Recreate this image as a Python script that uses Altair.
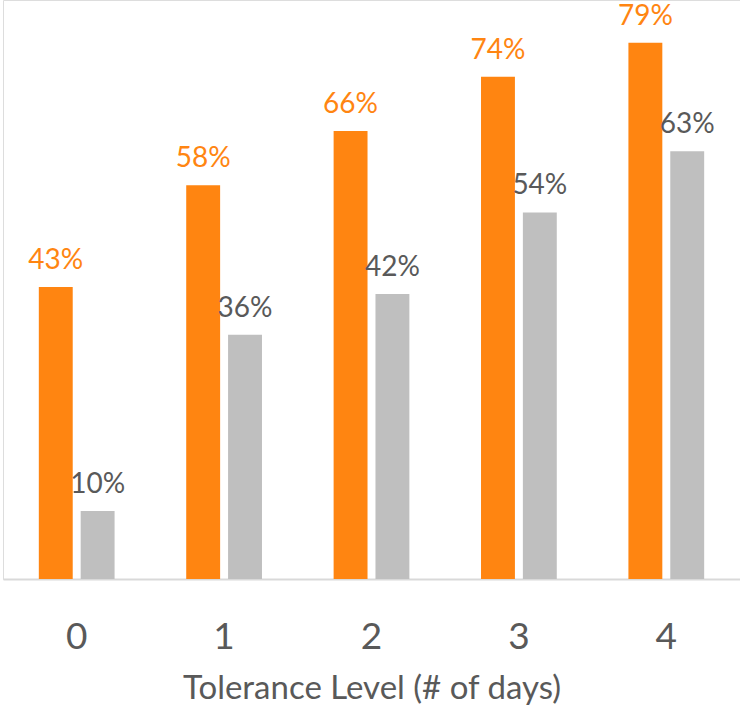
import altair as alt
import pandas as pd

categories = ["0", "1", "2", "3", "4"]
series_a = [43, 58, 66, 74, 79]
series_b = [10, 36, 42, 54, 63]
series_names = ["A", "B"]

rows = []
for c, a, b in zip(categories, series_a, series_b):
    rows.append({"level": c, "series": "A", "value": a, "label": f"{a}%"})
    rows.append({"level": c, "series": "B", "value": b, "label": f"{b}%"})
df = pd.DataFrame(rows)

FONT = "Lato"
color_scale = alt.Scale(domain=series_names, range=["#FF8511", "#BFBFBF"])

x = alt.X("level:N", sort=categories,
          scale=alt.Scale(paddingInner=0.486, paddingOuter=0.243),
          axis=alt.Axis(title="Tolerance Level (# of days)", labelAngle=0,
                        labelFontSize=37, labelColor="#595959", labelFont=FONT,
                        labelPadding=40, titleFontSize=33, titleColor="#595959",
                        titleFont=FONT, titleFontWeight="normal", titlePadding=17,
                        ticks=False, domainColor="#D9D9D9", domainWidth=2))
xo = alt.XOffset("series:N", sort=series_names, scale=alt.Scale(paddingInner=0.19))
y = alt.Y("value:Q", scale=alt.Scale(domain=[0, 85.3], nice=False), axis=None)

base = alt.Chart(df).encode(x=x, xOffset=xo, y=y)
bars = base.mark_bar().encode(color=alt.Color("series:N", scale=color_scale, legend=None))
texts = base.mark_text(baseline="alphabetic", dy=-18, fontSize=28, font=FONT).encode(
    text="label:N",
    color=alt.condition(alt.datum.series == "A", alt.value("#FF8511"), alt.value("#595959")))

chart = (bars + texts).properties(
    width=737, height=579,
    autosize=alt.AutoSizeParams(type="none"),
    padding={"left": 3, "top": 0, "right": 0, "bottom": 131},
).configure_view(strokeOpacity=0, strokeWidth=0).configure(background="white")

chart.save("out.html", embed_options={"renderer": "svg", "actions": False})
